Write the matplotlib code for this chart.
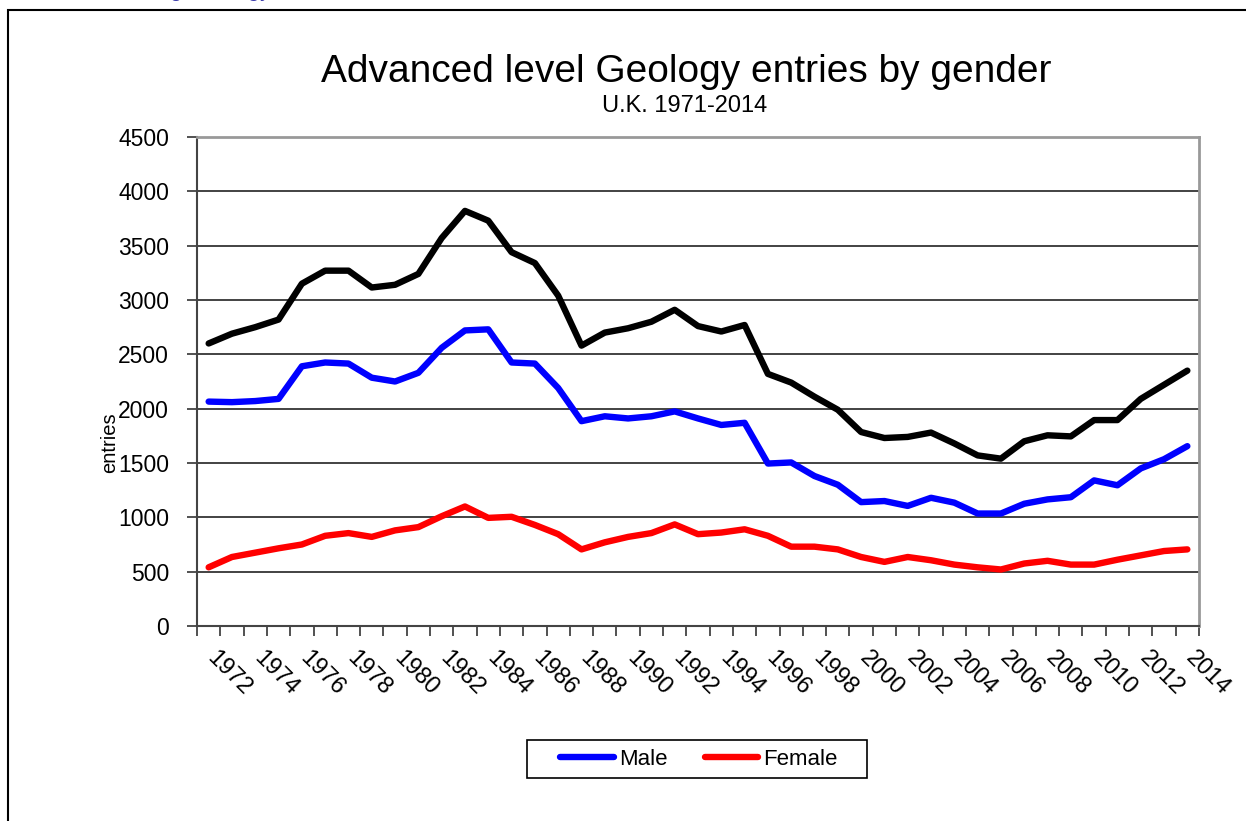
import matplotlib
matplotlib.use("Agg")
import matplotlib.pyplot as plt
from matplotlib.patches import Rectangle
import numpy as np

years = list(range(1972, 2015))
tick_labels = [str(y) for y in years[::2]]

total = [2600, 2690, 2750, 2820, 3150, 3270, 3270, 3115, 3140, 3240,
         3570, 3820, 3730, 3440, 3340, 3040, 2580, 2700, 2740, 2800,
         2910, 2760, 2710, 2770, 2320, 2240, 2110, 1990, 1785, 1730,
         1740, 1780, 1680, 1570, 1540, 1700, 1755, 1745, 1895, 1895,
         2090, 2220, 2350]
male = [2065, 2060, 2070, 2090, 2390, 2425, 2415, 2285, 2250, 2330,
        2560, 2720, 2730, 2425, 2415, 2190, 1885, 1930, 1910, 1930,
        1975, 1910, 1850, 1870, 1495, 1505, 1380, 1300, 1140, 1150,
        1105, 1180, 1135, 1035, 1035, 1125, 1165, 1185, 1340, 1295,
        1450, 1535, 1655]
female = [540, 635, 675, 715, 750, 830, 855, 820, 880, 910,
          1010, 1100, 995, 1005, 930, 845, 705, 770, 820, 855,
          935, 845, 860, 890, 830, 730, 730, 705, 635, 590,
          635, 605, 565, 540, 520, 575, 600, 565, 565, 610,
          650, 690, 705]

plt.rcParams['font.family'] = ['Liberation Sans', 'DejaVu Sans']

W, H = 1246, 821
fig = plt.figure(figsize=(W / 100, H / 100), dpi=100)
fig.patch.set_facecolor('white')

def fx(px):
    return px / W

def fy(py):
    return 1 - py / H

# outer chart border
fig.add_artist(Rectangle((fx(8), -0.05), 1.1, fy(10) + 0.05,
                         transform=fig.transFigure, fill=False,
                         edgecolor='black', linewidth=1.5, clip_on=False))

# partially visible heading above the chart (cut off in the source)
fig.text(fx(93), fy(-4.5), "Teaching Geology", color='#3a3aaa',
         fontsize=16, va='baseline', ha='left')

ax = fig.add_axes([fx(197), fy(626), 1002 / W, 489 / H])
x = np.arange(len(years))

ax.plot(x, total, color='black', linewidth=4.6, solid_capstyle='round',
        solid_joinstyle='round', zorder=3)
ax.plot(x, male, color='#0000ff', linewidth=4.6, solid_capstyle='round',
        solid_joinstyle='round', label='Male', zorder=3)
ax.plot(x, female, color='#ff0000', linewidth=4.6, solid_capstyle='round',
        solid_joinstyle='round', label='Female', zorder=3)

ax.set_xlim(-0.5, len(years) - 0.5)
ax.set_ylim(0, 4500)
ax.set_yticks(np.arange(0, 4501, 500))
ax.yaxis.grid(True, color='#222222', linewidth=1.2)
ax.set_axisbelow(True)

# label anchors sit slightly left of the category centres (as in the source)
ax.set_xticks(x[::2] - 0.25)
ax.set_xticklabels(tick_labels, rotation=-45, ha='left', va='top',
                   fontsize=17)
ax.set_xticks(np.arange(-0.5, len(years), 1), minor=True)
ax.tick_params(axis='x', which='major', length=0, pad=15)
ax.tick_params(axis='x', which='minor', length=7, width=1.2,
               direction='out', color='#333333')
ax.tick_params(axis='y', length=7, width=1.2, direction='out',
               color='#333333', labelsize=16.5, pad=13)

for side in ['left', 'bottom']:
    ax.spines[side].set_color('#444444')
    ax.spines[side].set_linewidth(1.5)
for side in ['right', 'top']:
    ax.spines[side].set_color('#999999')
    ax.spines[side].set_linewidth(2)

fig.text(fx(110), fy(443), 'entries', rotation=90, ha='center', va='center',
         fontsize=14.5)

fig.text(fx(686), fy(72), 'Advanced level Geology entries by gender',
         ha='center', va='center', fontsize=28)
fig.text(fx(685), fy(106), 'U.K. 1971-2014', ha='center', va='center',
         fontsize=17)

# legend frame drawn separately for its wide side padding
fig.add_artist(Rectangle((fx(527), fy(778)), 340 / W, 38 / H,
                         transform=fig.transFigure, fill=False,
                         edgecolor='black', linewidth=1.2))
leg = ax.legend(loc='center', bbox_to_anchor=(fx(699), fy(759)),
                bbox_transform=fig.transFigure, ncol=2, frameon=False,
                fontsize=16, handlelength=2.4, handletextpad=0.22,
                columnspacing=1.7, borderpad=0.3, borderaxespad=0)

fig.savefig('out.png', dpi=100)
